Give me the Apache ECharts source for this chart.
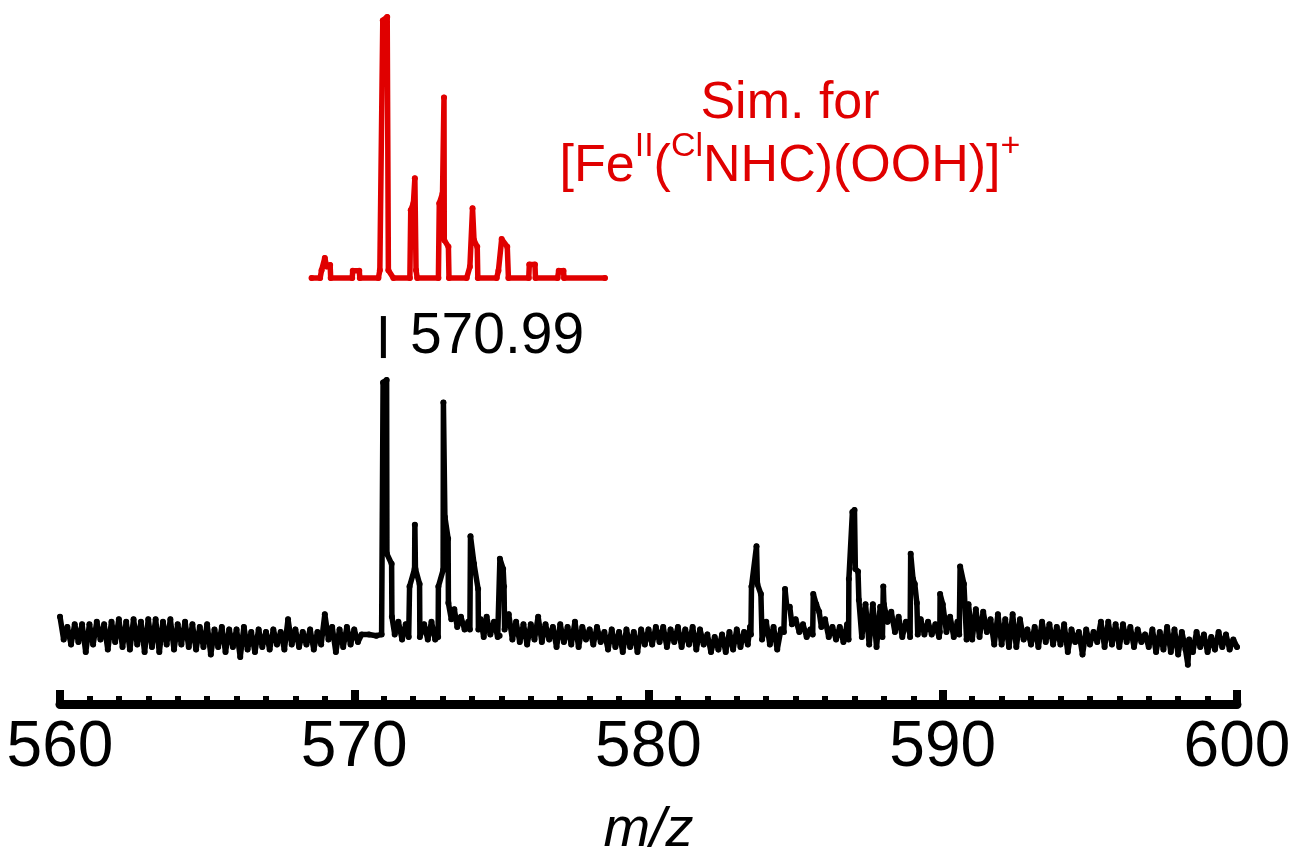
<!DOCTYPE html>
<html>
<head>
<meta charset="utf-8">
<script src="https://cdn.jsdelivr.net/npm/echarts@6/dist/echarts.min.js"></script>
<style>
  html, body { margin: 0; padding: 0; background: #fff; }
  #chart { width: 1294px; height: 862px; }
</style>
</head>
<body>
<div id="chart"></div>
<script>
// rango del eje m/z
const mzMin = 560;
const mzMax = 600;
const mzStep = 10;

// espectro simulado [m/z, intensidad relativa]
const simData = [
  [568.55, 0], [568.84, 0], [568.89, 3], [569.00, 7.7], [569.06, 4.4], [569.18, 5], [569.20, 0],
  [569.93, 0], [569.95, 2.8], [570.17, 2.8], [570.19, 0],
  [570.82, 0], [570.87, 3], [570.97, 98.7], [571.12, 100], [571.16, 3], [571.33, 0],
  [571.89, 0], [571.92, 26], [572.01, 28.6], [572.06, 38.2], [572.10, 3], [572.14, 0],
  [572.86, 0], [572.89, 28.6], [573.00, 32.4], [573.05, 69.2], [573.06, 14.5], [573.20, 12], [573.22, 0],
  [573.82, 0], [573.93, 4.3], [574.02, 26.7], [574.07, 14.5], [574.18, 12], [574.20, 0],
  [574.84, 0], [574.90, 2.8], [575.01, 14.9], [575.20, 12], [575.24, 0],
  [575.93, 0], [575.95, 5.2], [576.14, 5.2], [576.16, 0],
  [576.91, 0], [576.95, 2.8], [577.11, 2.8], [577.13, 0],
  [578.52, 0]
];

// espectro experimental [m/z, intensidad relativa]
const expData = [
  [560.000, 6], [560.125, -3], [560.250, 2], [560.375, -5], [560.500, 3], [560.625, -4], [560.750, 3], [560.875, -8],
  [561.000, 3], [561.125, -5], [561.250, 4], [561.375, -3], [561.500, 3], [561.625, -7], [561.750, 4], [561.875, -4],
  [562.000, 5], [562.125, -6], [562.250, 4], [562.375, -7], [562.500, 5], [562.625, -5], [562.750, 4], [562.875, -8],
  [563.000, 5], [563.125, -6], [563.250, 5], [563.375, -8], [563.500, 4], [563.625, -5], [563.750, 5], [563.875, -7],
  [564.000, 3], [564.125, -5], [564.250, 4], [564.375, -6], [564.500, 3], [564.625, -7], [564.750, 2], [564.875, -6],
  [565.000, 3], [565.125, -9], [565.250, 1], [565.375, -6], [565.500, 2], [565.625, -8], [565.750, 1], [565.875, -6],
  [566.000, 1], [566.125, -10], [566.250, 2], [566.375, -7], [566.500, 0], [566.625, -8], [566.750, 1], [566.875, -6],
  [567.000, 0], [567.125, -7], [567.250, 1], [567.375, -5], [567.500, 0], [567.625, -7], [567.750, 5], [567.875, -5],
  [568.000, 1], [568.125, -6], [568.250, 0], [568.375, -5], [568.500, 1], [568.625, -7], [568.750, 0], [568.875, -5],
  [569.000, 7], [569.125, -3], [569.250, 2], [569.375, -8], [569.500, 1], [569.625, -6], [569.750, 2], [569.875, -5],
  [570.000, 1], [570.125, -4], [570.250, -1], [570.500, -1], [570.750, -1.5], [570.930, -1],
  [570.980, 99], [571.100, 100], [571.110, 31], [571.270, 27], [571.280, 6],
  [571.375, -1], [571.500, 4], [571.625, -3], [571.750, 3], [571.850, -2],
  [571.880, 18], [572.050, 25], [572.060, 42.5], [572.080, 25], [572.220, 19], [572.230, -2],
  [572.375, 3], [572.500, -3], [572.625, 4], [572.750, -3], [572.850, -2],
  [572.860, 18], [573.020, 24.6], [573.030, 91], [573.080, 45.6], [573.190, 37], [573.200, 11.5],
  [573.300, 5], [573.400, 9], [573.500, 2], [573.625, 6], [573.750, 1], [573.875, 4], [573.930, 1],
  [573.950, 38], [574.070, 27], [574.210, 17], [574.220, 1],
  [574.300, 5], [574.400, -2], [574.500, 6], [574.625, -1], [574.750, 4], [574.875, -2], [574.940, -1.5],
  [574.950, 29], [575.060, 25], [575.090, 18], [575.110, 1],
  [575.250, 7], [575.375, -3], [575.500, 4], [575.625, -4], [575.750, 3], [575.875, -5],
  [576.000, 3], [576.125, -3], [576.250, 6], [576.375, -4], [576.500, 3], [576.625, -3], [576.750, 2], [576.875, -6],
  [577.000, 3], [577.125, -4], [577.250, 2], [577.375, -5], [577.500, 4], [577.625, -6], [577.750, 2], [577.875, -3],
  [578.000, 1], [578.125, -5], [578.250, 2], [578.375, -4], [578.500, 0], [578.625, -7], [578.750, 1], [578.875, -6],
  [579.000, 0], [579.125, -8], [579.250, 1], [579.375, -6], [579.500, 0], [579.625, -8], [579.750, 1], [579.875, -5],
  [580.000, 1], [580.125, -5], [580.250, 2], [580.375, -4], [580.500, 2], [580.625, -6], [580.750, 1], [580.875, -4],
  [581.000, 2], [581.125, -6], [581.250, 1], [581.375, -5], [581.500, 2], [581.625, -7], [581.750, 1], [581.875, -5],
  [582.000, -1], [582.125, -8], [582.250, -2], [582.375, -7], [582.500, -1], [582.625, -8], [582.750, 0], [582.875, -7],
  [583.000, 1], [583.125, -6], [583.250, 0], [583.375, -5], [583.450, 2], [583.480, -1],
  [583.500, 18], [583.670, 34], [583.700, 19], [583.820, 15], [583.860, -3],
  [584.000, 4], [584.125, -5], [584.250, 2], [584.375, -7], [584.500, 1], [584.600, 0],
  [584.640, 17], [584.700, 10], [584.800, 10], [584.875, 3],
  [585.000, 5], [585.125, 0], [585.250, 3], [585.375, -2], [585.500, 1], [585.580, -1],
  [585.600, 15], [585.700, 11], [585.800, 8], [585.875, 2],
  [586.000, 5], [586.125, -2], [586.250, 2], [586.375, -3], [586.500, 2], [586.625, -4], [586.750, 3], [586.800, -3],
  [586.810, 21], [586.930, 47.6], [587.000, 48.4], [587.030, 25], [587.120, 24], [587.150, 12.7],
  [587.250, -2], [587.375, 11], [587.500, -5], [587.625, 11], [587.750, -6], [587.875, 10], [587.950, -2],
  [587.980, 18], [588.000, 11], [588.125, 4], [588.250, 8], [588.375, 0], [588.500, 6], [588.625, -2], [588.750, 4], [588.875, 0],
  [588.890, -2], [588.910, 31], [588.990, 21], [589.050, 19], [589.120, 11.5], [589.150, -1],
  [589.250, 5], [589.375, -1], [589.500, 4], [589.625, -1], [589.750, 3], [589.875, -2],
  [589.900, 0], [589.910, 15], [590.000, 11], [590.125, 0], [590.250, 6], [590.375, -2], [590.500, 4], [590.560, -1],
  [590.590, 26], [590.720, 19], [590.810, -3],
  [590.875, 11], [591.000, -3], [591.125, 9], [591.250, -2], [591.375, 8], [591.500, 0], [591.625, 5], [591.750, -5], [591.875, 7],
  [592.000, -5], [592.125, 5], [592.250, -6], [592.375, 7], [592.500, -6], [592.625, 5], [592.750, -3], [592.875, 1],
  [593.000, -5], [593.125, 2], [593.250, -6], [593.375, 4], [593.500, -4], [593.625, 3], [593.750, -5], [593.875, 2],
  [594.000, -5], [594.125, 3], [594.250, -8], [594.375, 1], [594.500, -4], [594.625, 0], [594.750, -9], [594.875, 1],
  [595.000, -5], [595.125, 0], [595.250, -4], [595.375, 4], [595.500, -6], [595.625, 4], [595.750, -5], [595.875, 3],
  [596.000, -6], [596.125, 3], [596.250, -4], [596.375, 2], [596.500, -6], [596.625, 1], [596.750, -4], [596.875, -1],
  [597.000, -6], [597.125, 1], [597.250, -8], [597.375, 0], [597.500, -7], [597.625, 2], [597.750, -8], [597.875, 1],
  [598.000, -9], [598.125, 0], [598.250, -7], [598.330, -13], [598.375, -3], [598.500, -8], [598.625, 0], [598.750, -6], [598.875, -1],
  [599.000, -8], [599.125, -2], [599.250, -7], [599.375, 0], [599.500, -6], [599.625, -1], [599.750, -7], [599.875, -3],
  [600.000, -6]
];

// pico anotado
const peakLabel = '570.99';
const peakMz = 570.99;
const peakMarkY = 117;

const RED = '#e00000';
const FONT = 'Liberation Sans, Arial, Helvetica, sans-serif';

const chart = echarts.init(document.getElementById('chart'));

const option = {
  animation: false,
  backgroundColor: '#fff',
  grid: [
    { left: 60, right: 57, top: 17, bottom: 584, outerBoundsMode: 'none' },
    { left: 60, right: 57, top: 300, bottom: 158, outerBoundsMode: 'none' }
  ],
  xAxis: [
    { gridIndex: 0, type: 'value', min: mzMin, max: mzMax, show: false },
    {
      gridIndex: 1, type: 'value', min: mzMin, max: mzMax, interval: mzStep,
      splitLine: { show: false },
      axisLine: { show: true, onZero: false, lineStyle: { color: '#000', width: 9 } },
      axisTick: { show: true, inside: true, length: 14, lineStyle: { color: '#000', width: 8 } },
      minorTick: { show: true, splitNumber: 10, length: 8, lineStyle: { color: '#000', width: 6 } },
      axisLabel: { color: '#000', fontSize: 64, fontFamily: FONT, margin: 12 },
      name: 'm/z',
      nameLocation: 'middle',
      nameGap: 98,
      nameTextStyle: { color: '#000', fontSize: 56, fontStyle: 'italic', fontFamily: FONT }
    }
  ],
  yAxis: [
    { gridIndex: 0, type: 'value', min: 0, max: 100, show: false },
    { gridIndex: 1, type: 'value', min: -28.6, max: 131.7, show: false }
  ],
  graphic: [{
    type: 'text',
    x: 790,
    y: 67,
    style: {
      text: '{a|Sim. for}\n{a|[Fe}{s|II}{a|(}{s|Cl}{a|NHC)(OOH)]}{s|+}',
      align: 'center',
      verticalAlign: 'top',
      fill: RED,
      font: '52px ' + FONT,
      rich: {
        a: { fontSize: 52, fontFamily: FONT, fill: RED, lineHeight: 63, verticalAlign: 'bottom' },
        s: { fontSize: 34, fontFamily: FONT, fill: RED, lineHeight: 58, verticalAlign: 'top' }
      }
    }
  }],
  series: [
    {
      name: 'Sim',
      type: 'line',
      xAxisIndex: 0, yAxisIndex: 0,
      data: simData,
      symbol: 'circle', symbolSize: 6, showAllSymbol: true,
      itemStyle: { color: RED },
      lineStyle: { color: RED, width: 5.5, join: 'round', cap: 'round' },
      clip: false
    },
    {
      name: 'Exp',
      type: 'line',
      xAxisIndex: 1, yAxisIndex: 1,
      data: expData,
      symbol: 'circle', symbolSize: 6, showAllSymbol: true,
      itemStyle: { color: '#000' },
      lineStyle: { color: '#000', width: 5.5, join: 'round', cap: 'round' },
      clip: false,
      markPoint: {
        symbol: 'rect',
        symbolSize: [5, 42],
        itemStyle: { color: '#000' },
        label: {
          show: true, position: 'right', distance: 24,
          color: '#000', fontSize: 57, fontFamily: FONT,
          formatter: peakLabel
        },
        data: [{ coord: [peakMz, peakMarkY] }]
      }
    }
  ]
};

chart.setOption(option);
</script>
</body>
</html>
